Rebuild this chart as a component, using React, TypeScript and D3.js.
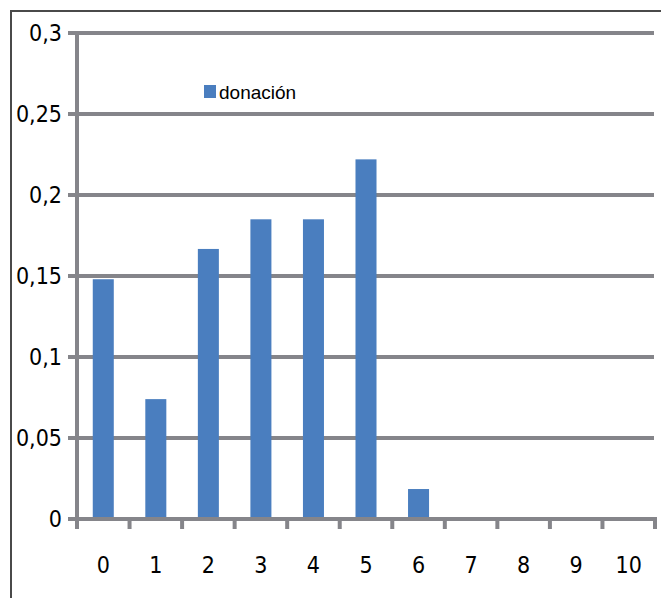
import React from 'react';
import * as d3 from 'd3';

const categories: string[] = ['0', '1', '2', '3', '4', '5', '6', '7', '8', '9', '10'];
const donacion: number[] = [0.148, 0.074, 0.1667, 0.185, 0.185, 0.222, 0.0185, 0, 0, 0, 0];
const yTicks: number[] = [0, 0.05, 0.1, 0.15, 0.2, 0.25, 0.3];
const yTickLabels: string[] = ['0', '0,05', '0,1', '0,15', '0,2', '0,25', '0,3'];
const seriesName = 'donación';

const width = 661;
const height = 598;
const gridColor = '#85858a';
const barColor = '#4a7ebf';

function App() {
    const x = d3.scaleBand<string>()
        .domain(categories)
        .range([77, 655])
        .paddingInner(0.6)
        .paddingOuter(0.3);

    const y = d3.scaleLinear()
        .domain([0, 0.3])
        .range([519, 33]);

    const step = x.step();
    const x0 = x.range()[0];
    const tickXs = d3.range(categories.length + 1).map(i => x0 + i * step);

    return (
        <svg width={width} height={height} style={{ position: 'absolute', left: 0, top: 0 }}>
            <rect x={0} y={0} width={width} height={height} fill="white" />
            {/* outer border */}
            <path d={`M11,${height} V11 H${width}`} fill="none" stroke="#4a4a4a" strokeWidth={2} />

            {/* gridlines */}
            {yTicks.filter(t => t > 0).map(t => (
                <line key={t} x1={68} x2={654} y1={y(t)} y2={y(t)} stroke={gridColor} strokeWidth={4} />
            ))}

            {/* bars */}
            {donacion.map((v, i) => v > 0 && (
                <rect key={i}
                    x={x(categories[i])}
                    y={y(v)}
                    width={x.bandwidth()}
                    height={y(0) - y(v)}
                    fill={barColor} />
            ))}

            {/* y axis */}
            <line x1={77} x2={77} y1={y(0.3) - 2} y2={528} stroke={gridColor} strokeWidth={4} />
            {/* x axis */}
            <line x1={68} x2={657} y1={y(0)} y2={y(0)} stroke={gridColor} strokeWidth={4} />
            {tickXs.map((tx, i) => (
                <line key={i} x1={tx} x2={tx} y1={y(0)} y2={529} stroke={gridColor} strokeWidth={4} />
            ))}

            {/* y labels */}
            <g fontFamily="'DejaVu Sans Condensed', 'DejaVu Sans'" fontSize={23} fill="#000" textAnchor="end">
                {yTicks.map((t, i) => (
                    <text key={t} x={62} y={y(t) + 8}>{yTickLabels[i]}</text>
                ))}
            </g>

            {/* x labels */}
            <g fontFamily="'DejaVu Sans Condensed', 'DejaVu Sans'" fontSize={23} fill="#000" textAnchor="middle">
                {categories.map(c => (
                    <text key={c} x={(x(c) ?? 0) + x.bandwidth() / 2} y={573}>{c}</text>
                ))}
            </g>

            {/* legend */}
            <rect x={204} y={85} width={12} height={13} fill={barColor} />
            <text x={219} y={99} fontFamily="'Liberation Sans', Arial" fontSize={19} fill="#000">{seriesName}</text>
        </svg>
    );
}

export default App;
